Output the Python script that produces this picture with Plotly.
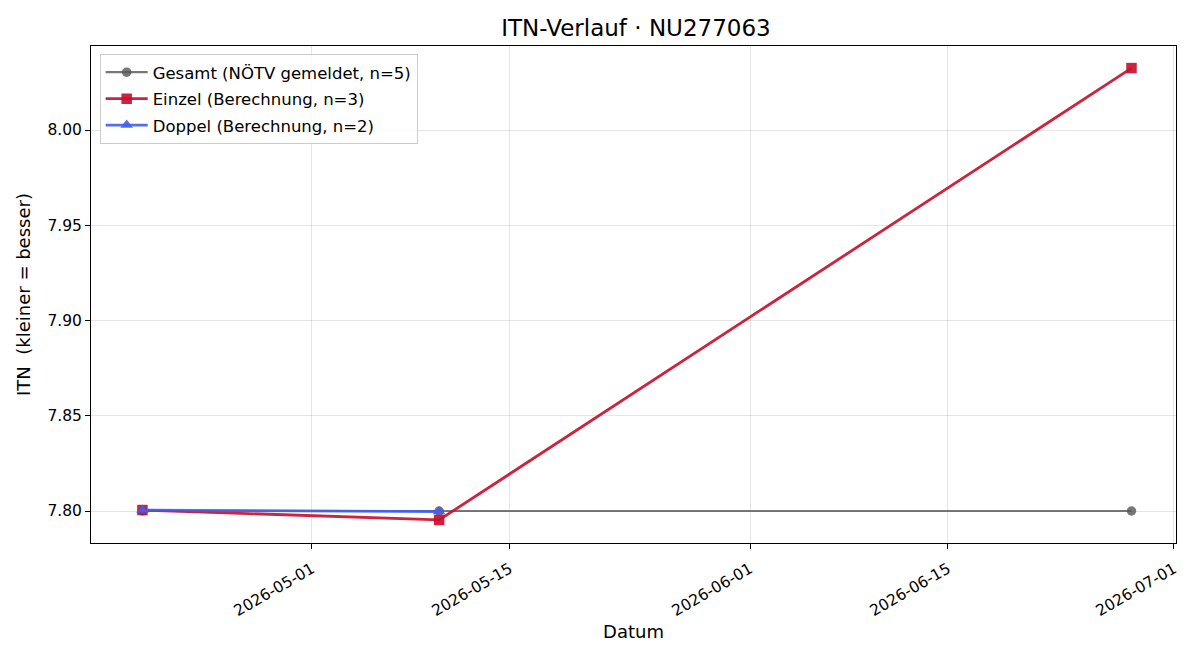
import plotly.graph_objects as go

gesamt_dates = ["2026-04-19", "2026-05-10", "2026-06-28"]
gesamt_vals = [7.80, 7.80, 7.80]
einzel_dates = ["2026-04-19", "2026-05-10", "2026-06-28"]
einzel_vals = [7.8005, 7.7953, 8.0325]
doppel_dates = ["2026-04-19", "2026-05-10"]
doppel_vals = [7.8005, 7.7997]

y_ticks = [7.80, 7.85, 7.90, 7.95, 8.00]
x_ticks = ["2026-05-01", "2026-05-15", "2026-06-01", "2026-06-15", "2026-07-01"]

font = "DejaVu Sans"
fig = go.Figure()
fig.add_trace(go.Scatter(
    x=gesamt_dates, y=gesamt_vals, mode="lines+markers",
    name="Gesamt (NÖTV gemeldet, n=5)", legendgroup="g",
    line=dict(color="rgba(85,85,85,0.8)", width=2.2),
    marker=dict(symbol="circle", size=9.5, color="rgba(85,85,85,0.8)"),
))
fig.add_trace(go.Scatter(
    x=einzel_dates, y=einzel_vals, mode="lines+markers",
    name="Einzel (Berechnung, n=3)", legendgroup="e",
    line=dict(color="rgba(200,16,46,0.92)", width=2.8),
    marker=dict(symbol="square", size=10.5, color="rgba(200,16,46,0.92)"),
))
fig.add_trace(go.Scatter(
    x=doppel_dates, y=doppel_vals, mode="lines+markers",
    name="Doppel (Berechnung, n=2)", legendgroup="d",
    line=dict(color="rgba(65,95,235,0.9)", width=2.8),
    marker=dict(symbol="triangle-up", size=11, color="rgba(65,95,235,0.9)"),
))

axis_common = dict(
    showline=True, linecolor="black", linewidth=1, mirror=True,
    ticks="outside", ticklen=5, tickcolor="black",
    showgrid=True, gridcolor="rgba(0,0,0,0.1)", gridwidth=1,
    zeroline=False, tickfont=dict(family=font, size=15.5, color="black"),
)

fig.update_layout(
    width=1200, height=660,
    margin=dict(l=91, r=24, t=46, b=117),
    paper_bgcolor="white", plot_bgcolor="white",
    font=dict(family=font, size=15.5, color="black"),
    title=dict(text="ITN-Verlauf · NU277063", x=0.53, xanchor="center",
               y=0.957, yanchor="middle", font=dict(family=font, size=23)),
    xaxis=dict(**axis_common, type="date",
               range=["2026-04-15 08:38", "2026-07-01 03:36"],
               tickvals=x_ticks, ticktext=x_ticks, tickangle=-30,
               ticklabelstandoff=5,
               title=dict(text="Datum", font=dict(family=font, size=18), standoff=6)),
    yaxis=dict(**axis_common, range=[7.7832, 8.0441],
               tickvals=y_ticks, tickformat=".2f",
               title=dict(text="ITN\u00a0 (kleiner = besser)", font=dict(family=font, size=18), standoff=12)),
    legend=dict(x=0.008, y=0.984, xanchor="left", yanchor="top",
                bgcolor="rgba(255,255,255,0.8)", bordercolor="#cccccc", borderwidth=1,
                font=dict(family=font, size=16.5), tracegroupgap=2, itemwidth=42),
    showlegend=True,
)

fig.write_html("out.html")
